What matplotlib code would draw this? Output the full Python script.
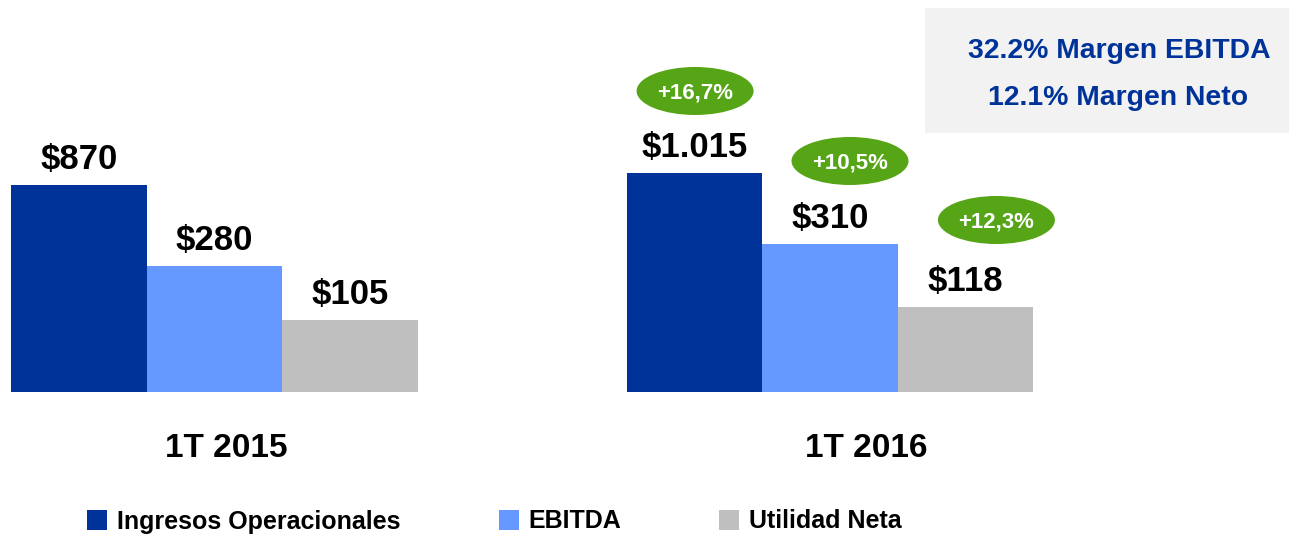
import numpy as np
import matplotlib
matplotlib.use('Agg')
import matplotlib.pyplot as plt
from matplotlib.patches import Ellipse, Rectangle
from matplotlib.transforms import ScaledTranslation

periods = ['1T 2015', '1T 2016']
series = ['Ingresos Operacionales', 'EBITDA', 'Utilidad Neta']
ingresos = [870, 1015]
ebitda = [280, 310]
utilidad = [105, 118]
growth = ['+16,7%', '+10,5%', '+12,3%']
margins = ['32.2% Margen EBITDA', '12.1% Margen Neto']

colors = ['#003399', '#6699FF', '#BFBFBF']
green = '#55A516'
# the original chart does not share one scale, so each series gets its own y axis
ylims = [(-1631, 3105), (108, 643), (33, 425)]

plt.rcParams['font.family'] = ['Liberation Sans', 'DejaVu Sans']
plt.rcParams['font.weight'] = 'bold'

W, H = 1291, 535
fig = plt.figure(figsize=(W / 100, H / 100), dpi=100)
ax = fig.add_axes([0, 143 / H, 1, 392 / H])
axes = [ax, ax.twinx(), ax.twinx()]
data = [ingresos, ebitda, utilidad]

x = np.arange(len(periods))
width = 0.22
ax.set_xlim(-214.5 / 615.5, (W - 214.5) / 615.5)

handles = []
for i, (a, vals) in enumerate(zip(axes, data)):
    lo, hi = ylims[i]
    a.set_ylim(lo, hi)
    xs = x + (i - 1) * width
    b = a.bar(xs, [v - lo for v in vals], width, bottom=lo, color=colors[i],
              label=series[i], linewidth=0)
    handles.append(b)
    for xv, v in zip(xs, vals):
        lbl = '$' + f'{v:,}'.replace(',', '.')
        a.annotate(lbl, (xv, v), xytext=(0, 11.5), textcoords='offset points',
                   ha='center', va='baseline', fontsize=25, fontweight='bold')
    a.axis('off')

# growth ellipses over the 2016 bars
ell_dx = [0.5, 20, 31]
ell_dy = [82, 83, 87]
for i, a in enumerate(axes):
    xb = 1 + (i - 1) * width
    v = data[i][1]
    trans = fig.dpi_scale_trans + ScaledTranslation(xb, v, a.transData)
    fig.add_artist(Ellipse((ell_dx[i] / 100, ell_dy[i] / 100), 1.17, 0.48,
                           transform=trans, color=green, linewidth=0))
    fig.text(ell_dx[i] / 100, (ell_dy[i] - 7.5) / 100, growth[i], transform=trans,
             ha='center', va='baseline', color='white', fontsize=16, fontweight='bold')

# period labels
for px, p in zip([226.5, 866.5], periods):
    fig.text(px / W, 1 - 457 / H, p, ha='center', va='baseline', fontsize=24, fontweight='bold')

# margin box
fig.add_artist(Rectangle((925 / W, 1 - 133 / H), (1289 - 925) / W, 125 / H,
                         transform=fig.transFigure, color='#F2F2F2', linewidth=0))
fig.text(1119.5 / W, 1 - 58 / H, margins[0], ha='center', va='baseline',
         fontsize=20.4, fontweight='bold', color='#003399')
fig.text(1118 / W, 1 - 105 / H, margins[1], ha='center', va='baseline',
         fontsize=20.4, fontweight='bold', color='#003399')

fig.legend(handles, series, loc='center left', bbox_to_anchor=(87 / W, 1 - 521.5 / H),
           ncol=3, frameon=False, prop=dict(family='Liberation Sans', weight='bold', size=18),
           handlelength=0.8, handleheight=0.88, handletextpad=0.4, columnspacing=3.92,
           borderpad=0, borderaxespad=0)

fig.savefig('out.png', dpi=100)
